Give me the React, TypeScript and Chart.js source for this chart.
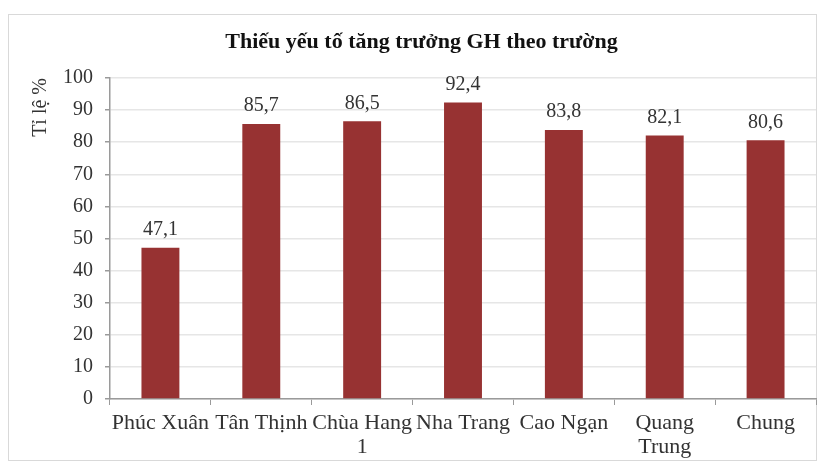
import React, { useEffect, useRef } from "react";
import { Chart, registerables } from "chart.js";

Chart.register(...registerables);

const categories: (string | string[])[] = [
  "Phúc Xuân",
  "Tân Thịnh",
  ["Chùa Hang", "1"],
  "Nha Trang",
  "Cao Ngạn",
  ["Quang", "Trung"],
  "Chung",
];
const values: number[] = [47.1, 85.7, 86.5, 92.4, 83.8, 82.1, 80.6];
const yTicks = { min: 0, max: 100, step: 10 };
const titleText = "Thiếu yếu tố tăng trưởng GH theo trường";
const yTitle = "Tỉ lệ %";

const FONT = "'Liberation Serif', 'Times New Roman', serif";

export default function App() {
  const ref = useRef<HTMLCanvasElement | null>(null);

  useEffect(() => {
    document.body.style.margin = "0";
    const canvas = ref.current;
    if (!canvas) return;

    const framePlugin = {
      id: "frame",
      beforeDraw(chart: any) {
        const ctx = chart.ctx;
        ctx.save();
        ctx.fillStyle = "#ffffff";
        ctx.fillRect(0, 0, chart.width, chart.height);
        ctx.strokeStyle = "#d9d9d9";
        ctx.lineWidth = 1;
        ctx.strokeRect(8.5, 14.5, 808, 446);
        ctx.restore();
      },
    };

    const labelPlugin = {
      id: "valueLabels",
      afterDatasetsDraw(chart: any) {
        const ctx = chart.ctx;
        const meta = chart.getDatasetMeta(0);
        ctx.save();
        ctx.font = `20px ${FONT}`;
        ctx.fillStyle = "#333333";
        ctx.textAlign = "center";
        ctx.textBaseline = "middle";
        meta.data.forEach((bar: any, i: number) => {
          const v = values[i];
          ctx.fillText(v.toFixed(1).replace(".", ","), bar.x, bar.y - 18);
        });
        ctx.restore();
      },
    };

    const chart = new Chart(canvas, {
      type: "bar",
      data: {
        labels: categories,
        datasets: [
          {
            data: values,
            backgroundColor: "#973232",
            borderWidth: 0,
            barPercentage: 0.376,
            categoryPercentage: 1,
          },
        ],
      },
      options: {
        animation: false,
        responsive: false,
        maintainAspectRatio: false,
        layout: { padding: { left: 27, right: 8, top: 29, bottom: 5 } },
        plugins: {
          legend: { display: false },
          tooltip: { enabled: false },
          title: {
            display: true,
            text: titleText,
            color: "#111111",
            font: { family: FONT, size: 22, weight: "bold", lineHeight: 1.2 },
            padding: { top: 0, bottom: 22.6 },
          },
        },
        scales: {
          x: {
            grid: {
              offset: true,
              drawOnChartArea: false,
              drawTicks: true,
              tickLength: 6,
              tickColor: "#9a9a9a",
            },
            border: { color: "#9a9a9a", width: 1.5 },
            ticks: {
              color: "#333333",
              font: { family: FONT, size: 22, lineHeight: 1.1 },
              padding: 6,
              maxRotation: 0,
              autoSkip: false,
            },
            afterFit(scale: any) {
              scale.height = 62;
            },
          },
          y: {
            min: yTicks.min,
            max: yTicks.max,
            ticks: {
              stepSize: yTicks.step,
              color: "#333333",
              font: { family: FONT, size: 20 },
              padding: 12,
            },
            grid: {
              color: "#e6e6e6",
              tickColor: "#9a9a9a",
              tickLength: 5,
              lineWidth: 1.5,
            },
            border: { color: "#9a9a9a", width: 1.5 },
            title: {
              display: true,
              text: yTitle,
              align: "end",
              color: "#333333",
              font: { family: FONT, size: 20, lineHeight: 1.2 },
              padding: { top: 2, bottom: 0 },
            },
            afterFit(scale: any) {
              scale.width = 83;
            },
          },
        },
      },
      plugins: [framePlugin, labelPlugin],
    } as any);

    return () => chart.destroy();
  }, []);

  return (
    <div style={{ width: 824, height: 466 }}>
      <canvas ref={ref} width={824} height={466} style={{ display: "block" }} />
    </div>
  );
}
